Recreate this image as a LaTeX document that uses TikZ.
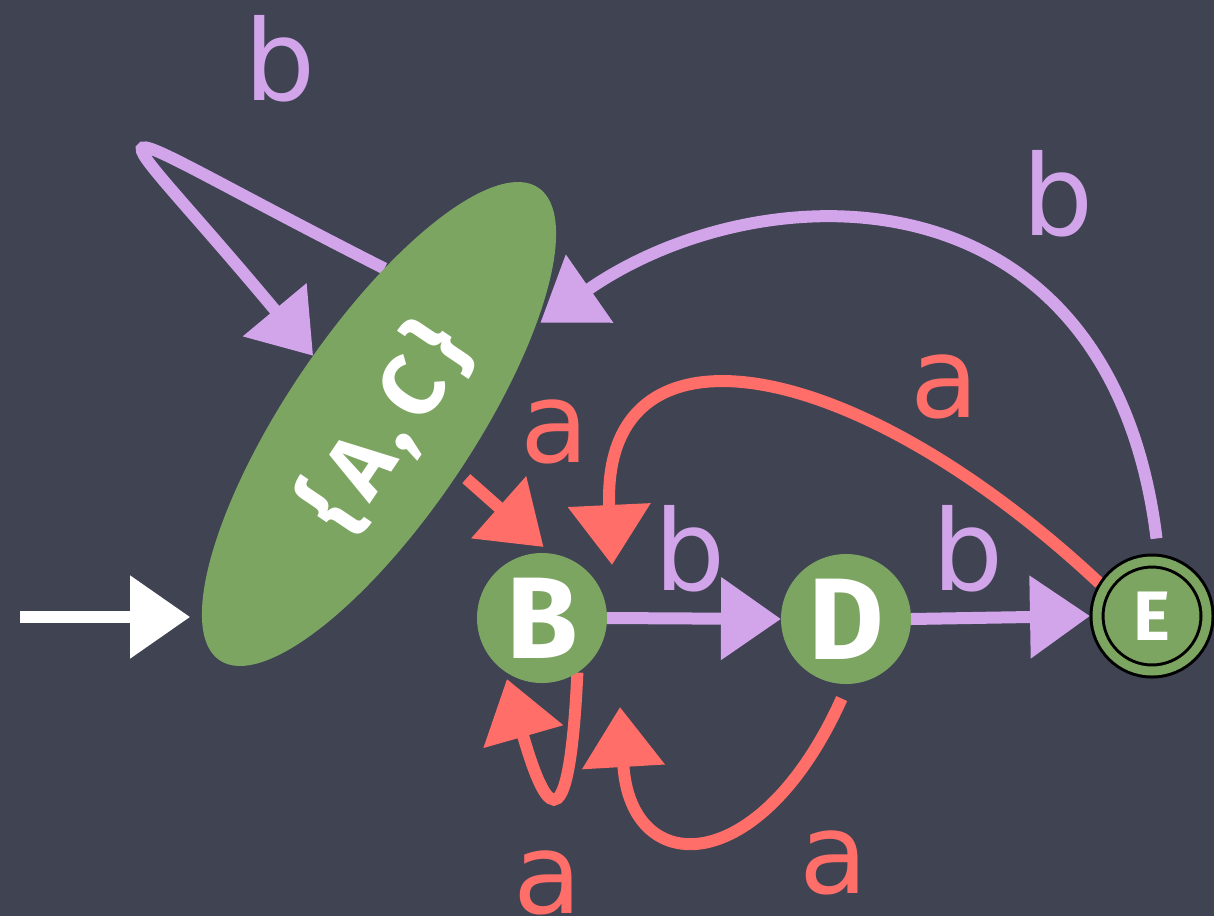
\documentclass[tikz,border=0pt]{standalone}
\usepackage{fontspec}
\setmainfont{DejaVu Sans}
\newfontfamily\chalkfont{Fira Sans}
\usetikzlibrary{arrows.meta,shapes.geometric,calc}
\definecolor{board}{RGB}{63,67,82}
\definecolor{nodegreen}{RGB}{125,165,98}
\definecolor{chalkpurple}{RGB}{210,165,235}
\definecolor{chalkred}{RGB}{255,110,105}
\pgfdeclarelayer{back}
\pgfdeclarelayer{edges}
\pgfsetlayers{back,edges,main}
\begin{document}
\begin{tikzpicture}[x=0.5pt,y=-0.5pt,
  state/.style={circle, fill=nodegreen, minimum size=65pt, inner sep=0pt, outer sep=0pt,
    text=white, font=\chalkfont\bfseries\fontsize{58}{58}\selectfont},
  edge/.style={line width=6pt, -{Triangle[length=30pt,width=40pt]}},
  pedge/.style={edge, draw=chalkpurple},
  redge/.style={edge, draw=chalkred},
  wedge/.style={edge, draw=white},
  lbl/.style={font=\fontsize{56}{56}\selectfont, anchor=base, inner sep=0pt},
  plbl/.style={lbl, text=chalkpurple},
  rlbl/.style={lbl, text=chalkred},
]
\useasboundingbox (0,0) rectangle (1214,916);
\begin{pgfonlayer}{back}
  \fill[board] (0,0) rectangle (1214,916);
\end{pgfonlayer}

% states
\node[ellipse, fill=nodegreen, minimum width=285pt, minimum height=93pt,
      inner sep=0pt, outer sep=0pt, rotate=56] (AC) at (379,424) {};
\node[rotate=56, text=white, inner sep=0pt,
      font=\chalkfont\bfseries\fontsize{44}{44}\selectfont] (ACtext) at (386,428)
      {\{\hspace{6pt}A\hspace{4pt},\hspace{6pt}C\hspace{6pt}\}};
\node[state] (B) at (542,618) {B};
\node[state] (D) at (846,619) {D};
\node[state, minimum size=55pt, draw=black, line width=1.5pt, double=nodegreen,
      double distance=4.5pt, outer sep=3.5pt,
      font=\chalkfont\bfseries\fontsize{35}{35}\selectfont] (E) at (1152,616) {E};

% free ends
\coordinate (init) at (20,617);
\coordinate (EBtip) at (612,565);
\coordinate (DBtip) at (620,707);

\begin{pgfonlayer}{edges}
  \draw[wedge, shorten >=6pt] (init) -- (AC.172 |- init);
  \draw[pedge] (AC.32) .. controls (68,108) and (93,92) .. (AC.78);
  \draw[pedge, shorten <=8pt, shorten >=3pt] (E.84) .. controls (1110,160) and (760,170) .. (AC.-24);
  \draw[redge] (E.148) .. controls (850,350) and (600,310) .. (EBtip);
  \draw[redge, shorten <=5pt, shorten >=5pt] (AC.-87) -- (B.82);
  \draw[pedge] (B.east) -- (D.west);
  \draw[pedge] (D.east) -- (E.west);
  \draw[redge, shorten >=4pt] (B.-57) .. controls (570,830) and (550,830) .. (B.-125);
  \draw[redge, shorten <=8pt] (D.-88) .. controls (760,880) and (630,880) .. (DBtip);
\end{pgfonlayer}

% labels
\node[plbl] (l1) at (280,100) {b};
\node[plbl] (l2) at (1058,235) {b};
\node[rlbl] (l3) at (945,417) {a};
\node[rlbl] (l4) at (555,462) {a};
\node[plbl] (l5) at (690,590) {b};
\node[plbl] (l6) at (968,590) {b};
\node[rlbl] (l7) at (548,913) {a};
\node[rlbl] (l8) at (834,893) {a};
\end{tikzpicture}
\end{document}
